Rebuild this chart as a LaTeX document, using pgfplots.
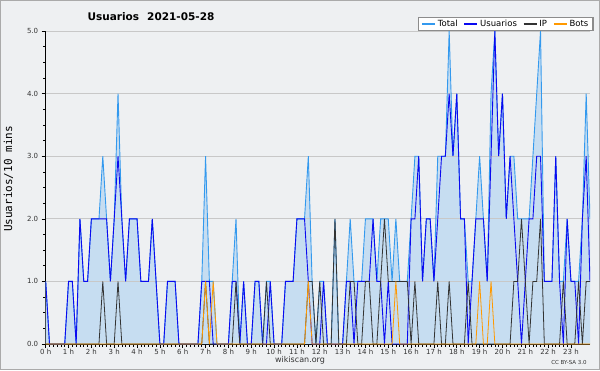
\documentclass[border=0pt]{standalone}
\usepackage{fontspec}
\setmainfont{DejaVu Sans}
\newfontfamily\monofont{DejaVu Sans Mono}
\usepackage{pgfplots}
\usepackage{pgfplotstable}
\pgfplotsset{compat=1.18}
\definecolor{bgc}{HTML}{EEF0F2}
\definecolor{borderc}{HTML}{AAAAAA}
\definecolor{fillc}{HTML}{C6DDF1}
\definecolor{totalc}{HTML}{3399EE}
\definecolor{userc}{HTML}{0A0AF0}
\definecolor{ipc}{HTML}{333333}
\definecolor{botc}{HTML}{FF9900}
\definecolor{gridc}{HTML}{C8C8C8}
\definecolor{labc}{HTML}{333333}
\definecolor{legbord}{HTML}{8C8C8C}

\pgfplotstableread{
i u ip b t
0 1 0 0 1
1 0 0 0 0
2 0 0 0 0
3 0 0 0 0
4 0 0 0 0
5 0 0 0 0
6 1 0 0 1
7 1 0 0 1
8 0 0 0 0
9 2 0 0 2
10 1 0 0 1
11 1 0 0 1
12 2 0 0 2
13 2 0 0 2
14 2 0 0 2
15 2 1 0 3
16 2 0 0 2
17 1 0 0 1
18 2 0 0 2
19 3 1 0 4
20 2 0 0 2
21 1 0 0 1
22 2 0 0 2
23 2 0 0 2
24 2 0 0 2
25 1 0 0 1
26 1 0 0 1
27 1 0 0 1
28 2 0 0 2
29 1 0 0 1
30 0 0 0 0
31 0 0 0 0
32 1 0 0 1
33 1 0 0 1
34 1 0 0 1
35 0 0 0 0
36 0 0 0 0
37 0 0 0 0
38 0 0 0 0
39 0 0 0 0
40 0 0 0 0
41 1 0 0 1
42 1 1 1 3
43 1 0 0 1
44 0 0 1 1
45 0 0 0 0
46 0 0 0 0
47 0 0 0 0
48 0 0 0 0
49 1 0 0 1
50 1 1 0 2
51 0 0 0 0
52 1 0 0 1
53 0 0 0 0
54 0 0 0 0
55 1 0 0 1
56 1 0 0 1
57 0 0 0 0
58 0 1 0 1
59 1 0 0 1
60 0 0 0 0
61 0 0 0 0
62 0 0 0 0
63 1 0 0 1
64 1 0 0 1
65 1 0 0 1
66 2 0 0 2
67 2 0 0 2
68 2 0 0 2
69 1 1 1 3
70 0 1 0 1
71 0 0 0 0
72 0 1 0 1
73 1 0 0 1
74 0 0 0 0
75 0 0 0 0
76 0 2 0 2
77 0 0 0 0
78 0 0 0 0
79 1 0 0 1
80 1 1 0 2
81 0 1 0 1
82 1 0 0 1
83 1 0 0 1
84 1 1 0 2
85 1 1 0 2
86 2 0 0 2
87 1 0 0 1
88 1 1 0 2
89 0 2 0 2
90 1 1 0 2
91 0 1 0 1
92 0 1 1 2
93 0 1 0 1
94 0 1 0 1
95 0 1 0 1
96 2 0 0 2
97 2 1 0 3
98 3 0 0 3
99 1 0 0 1
100 2 0 0 2
101 2 0 0 2
102 1 0 0 1
103 2 1 0 3
104 3 0 0 3
105 3 0 0 3
106 4 1 0 5
107 3 0 0 3
108 4 0 0 4
109 2 0 0 2
110 2 0 0 2
111 0 1 0 1
112 1 0 0 1
113 2 0 0 2
114 2 0 1 3
115 2 0 0 2
116 1 0 0 1
117 3 0 1 4
118 5 0 0 5
119 3 0 0 3
120 4 0 0 4
121 2 0 0 2
122 3 0 0 3
123 2 1 0 3
124 1 1 0 2
125 0 2 0 2
126 1 1 0 2
127 2 0 0 2
128 2 1 0 3
129 3 1 0 4
130 3 2 0 5
131 1 0 0 1
132 1 0 0 1
133 1 0 0 1
134 3 0 0 3
135 1 0 0 1
136 0 1 0 1
137 2 0 0 2
138 1 0 0 1
139 1 0 0 1
140 0 1 0 1
141 2 0 0 2
142 3 1 0 4
143 1 1 0 2
}\data

\begin{document}
\begin{tikzpicture}[x=1pt,y=1pt]
\path[use as bounding box] (0,0) rectangle (600,370);
\fill[bgc] (0,0) rectangle (600,370);
\draw[borderc, line width=1.2pt] (0.6,0.6) rectangle (599.4,369.4);
\begin{axis}[
  at={(45.7pt,26pt)}, anchor=south west,
  scale only axis, width=544.3pt, height=313pt,
  xmin=0, xmax=143, ymin=0, ymax=5,
  axis x line=bottom, axis y line=left,
  axis line style={-, black, line width=0.8pt},
  every outer x axis line/.append style={-},
  every outer y axis line/.append style={-},
  tick align=outside,
  xtick={0,6,12,18,24,30,36,42,48,54,60,66,72,78,84,90,96,102,108,114,120,126,132,138},
  xticklabels={0 h,1 h,2 h,3 h,4 h,5 h,6 h,7 h,8 h,9 h,10 h,11 h,12 h,13 h,14 h,15 h,16 h,17 h,18 h,19 h,20 h,21 h,22 h,23 h},
  minor x tick num=5,
  ytick={0,1,2,3,4,5},
  yticklabels={0.0,1.0,2.0,3.0,4.0,5.0},
  minor y tick num=3,
  major tick length=4pt, minor tick length=2.5pt,
  tick style={black, line width=0.6pt},
  ticklabel style={font=\fontsize{7}{8}\selectfont, text=labc},
  xticklabel style={yshift=2pt},
  legend style={at={(rel axis cs:1,1)}, anchor=south east, xshift=3.5pt,
    draw=legbord, line width=1.3pt, fill=white,
    font=\fontsize{8.5}{10}\selectfont,
    inner xsep=2.5pt, inner ysep=0.5pt,
    /tikz/every even column/.append style={column sep=4pt}},
  legend columns=-1,
  legend image code/.code={\draw[#1] (0pt,0pt) -- (13pt,0pt);},
]
\addplot[fill=fillc, draw=none, forget plot] table[x=i,y=t]{\data} \closedcycle;
\addplot[draw=gridc, line width=0.8pt, forget plot] coordinates {(0,1) (143,1)};
\addplot[draw=gridc, line width=0.8pt, forget plot] coordinates {(0,2) (143,2)};
\addplot[draw=gridc, line width=0.8pt, forget plot] coordinates {(0,3) (143,3)};
\addplot[draw=gridc, line width=0.8pt, forget plot] coordinates {(0,4) (143,4)};
\addplot[draw=gridc, line width=0.8pt, forget plot] coordinates {(0,5) (143,5)};
\addplot[draw=totalc, line width=0.9pt, forget plot] table[x=i,y=t]{\data};
\addplot[draw=userc, line width=0.9pt, forget plot] table[x=i,y=u]{\data};
\addplot[draw=ipc, line width=0.8pt, forget plot] table[x=i,y=ip]{\data};
\addplot[draw=botc, line width=0.8pt, forget plot] table[x=i,y=b]{\data};
\addlegendimage{draw=totalc, line width=1.5pt}
\addlegendentry{Total}
\addlegendimage{draw=userc, line width=1.5pt}
\addlegendentry{Usuarios}
\addlegendimage{draw=ipc, line width=1.5pt}
\addlegendentry{IP}
\addlegendimage{draw=botc, line width=1.5pt}
\addlegendentry{Bots}
\end{axis}
\node[text=black] at (151,353.5) {\bfseries\fontsize{10.5}{12}\selectfont Usuarios\hspace{8pt}2021-05-28};
\node[rotate=90, text=black] at (8.5,191) {\monofont\fontsize{11}{13}\selectfont Usuarios/10 mins};
\node[text=labc] at (300,9.5) {\fontsize{8}{9}\selectfont wikiscan.org};
\node[text=labc] at (569,8) {\fontsize{5.5}{6}\selectfont CC BY-SA 3.0};
\end{tikzpicture}
\end{document}
